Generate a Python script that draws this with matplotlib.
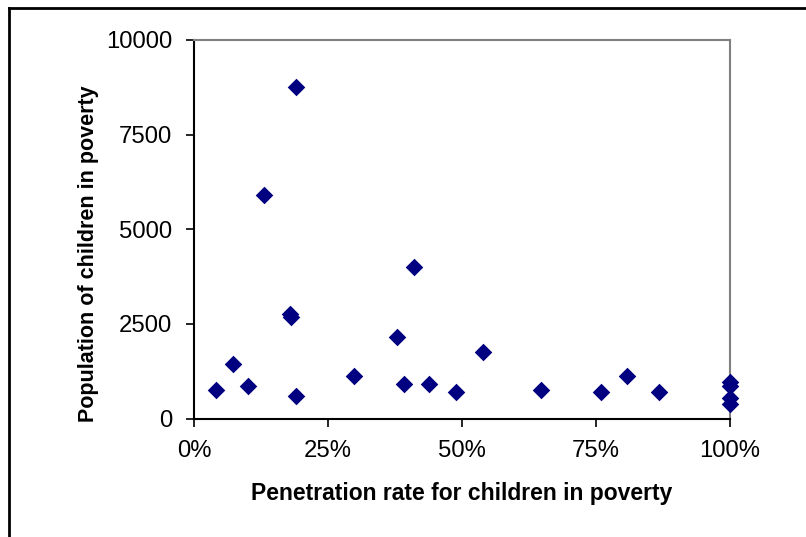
import matplotlib
matplotlib.use("Agg")
import matplotlib.pyplot as plt
from matplotlib.lines import Line2D
from matplotlib.ticker import FuncFormatter

plt.rcParams["font.family"] = ["Liberation Sans", "DejaVu Sans"]

# penetration rate (%) and population of children in poverty
rate = [4.1, 7.2, 10.0, 13.1, 17.9, 18.1, 19.0, 19.0, 29.8, 37.9, 39.1, 41.0,
        43.9, 48.8, 54.0, 64.8, 75.9, 80.8, 86.8, 100, 100, 100, 100]
population = [753, 1432, 859, 5913, 2760, 2680, 8750, 594, 1115, 2161, 903, 4011,
              903, 692, 1749, 753, 692, 1115, 692, 972, 866, 550, 375]

x_ticks = [0, 25, 50, 75, 100]
y_ticks = [0, 2500, 5000, 7500, 10000]

fig = plt.figure(figsize=(8.06, 5.37), dpi=100)
ax = fig.add_axes([194 / 806, 1 - 418.5 / 537, 536 / 806, 378.5 / 537])

ax.scatter(rate, population, marker="D", s=80, color="#000080", zorder=3,
           linewidths=0, clip_on=False)

ax.set_xlim(0, 100)
ax.set_ylim(0, 10000)
ax.set_xticks(x_ticks)
ax.set_yticks(y_ticks)
ax.xaxis.set_major_formatter(FuncFormatter(lambda v, p: "{0:.0f}%".format(v)))

ax.tick_params(axis="both", direction="out", length=5.8, width=1.2, colors="black",
               labelsize=17.2, pad=10)
ax.tick_params(axis="x", pad=10)
for side in ["left", "bottom"]:
    ax.spines[side].set_color("black")
    ax.spines[side].set_linewidth(1.5)
for side in ["top", "right"]:
    ax.spines[side].set_color("#808080")
    ax.spines[side].set_linewidth(1.5)

ax.set_xlabel("Penetration rate for children in poverty", fontsize=16.5,
              fontweight="bold", labelpad=14)
ax.set_ylabel("Population of children in poverty", fontsize=15.5,
              fontweight="bold")
ax.yaxis.set_label_coords(-0.177, 0.4346)

# outer chart frame (only top and left edges visible)
fig.add_artist(Line2D([8.5 / 806, 8.5 / 806], [0, 1 - 8 / 537],
                      transform=fig.transFigure, color="black", linewidth=2))
fig.add_artist(Line2D([8.5 / 806, 1], [1 - 8 / 537, 1 - 8 / 537],
                      transform=fig.transFigure, color="black", linewidth=2))

fig.savefig("out.png", dpi=100, facecolor="white")
